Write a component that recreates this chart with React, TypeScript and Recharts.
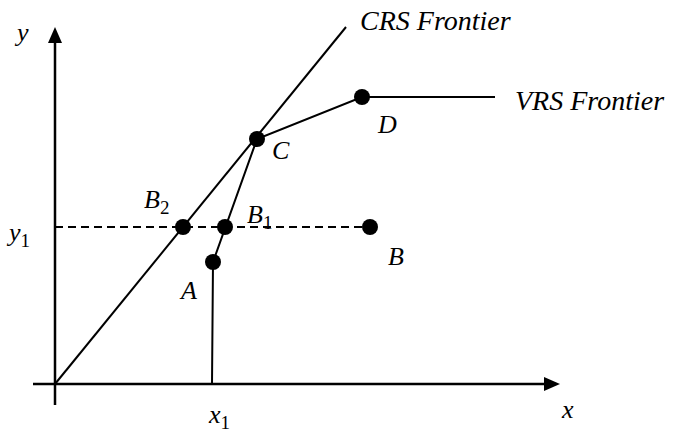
import React from 'react';
import { ComposedChart, Scatter, XAxis, YAxis } from 'recharts';

// diagram units: origin at (0, 0)
const xAxisLine = [{ x: -1.1, y: 0 }, { x: 24.6, y: 0 }];
const yAxisLine = [{ x: 0, y: -1.05 }, { x: 0, y: 17.2 }];
const crsFrontier = [{ x: 0, y: 0 }, { x: 14.55, y: 17.85 }];
const vrsFrontier = [{ x: 7.85, y: 0 }, { x: 7.9, y: 6.1 }, { x: 10.1, y: 12.25 }, { x: 15.35, y: 14.35 }, { x: 22, y: 14.35 }];
const y1Line = [{ x: 0, y: 7.85 }, { x: 15.75, y: 7.85 }];

const points = [
  { name: 'A', x: 7.9, y: 6.1 },
  { name: 'B', x: 15.75, y: 7.85 },
  { name: 'B1', x: 8.5, y: 7.85 },
  { name: 'B2', x: 6.4, y: 7.85 },
  { name: 'C', x: 10.1, y: 12.25 },
  { name: 'D', x: 15.35, y: 14.35 },
];

const arrowTips = [
  { dir: 'right', x: 25.25, y: 0 },
  { dir: 'up', x: 0, y: 17.85 },
];

const axisLabels = [
  { name: 'x', x: 25.25, y: 0 },
  { name: 'y', x: 0, y: 17.85 },
  { name: 'x1', x: 7.85, y: 0 },
  { name: 'y1', x: 0, y: 7.85 },
  { name: 'CRS Frontier', x: 14.55, y: 17.85 },
  { name: 'VRS Frontier', x: 22, y: 14.35 },
];

// label offsets in px from the anchor point
const labelOffset: Record<string, [number, number]> = {
  A: [-32, 37],
  B: [18, 38],
  B1: [22, -4],
  B2: [-39, -19],
  C: [15, 20],
  D: [16, 36],
  x: [2, 34],
  y: [-38, 14],
  x1: [-3, 39],
  y1: [-46, 14],
  'CRS Frontier': [14, 3],
  'VRS Frontier': [20, 13],
};

const FONT = '"Liberation Serif", serif';

const Dot = (props: any) => <circle cx={props.cx} cy={props.cy} r={8} fill="#000" />;
const NoShape = () => <g />;

const Arrow = (props: any) => {
  const { cx, cy, payload } = props;
  const pts = payload.dir === 'right'
    ? `${cx},${cy} ${cx - 16},${cy - 7} ${cx - 16},${cy + 7}`
    : `${cx},${cy} ${cx - 7},${cy + 16} ${cx + 7},${cy + 16}`;
  return <polygon points={pts} fill="#000" />;
};

const Label = (props: any) => {
  const { cx, cy, payload } = props;
  const name: string = payload.name;
  const [dx, dy] = labelOffset[name] || [0, 0];
  const m = name.match(/^([A-Za-z])(\d)$/);
  return (
    <text x={cx + dx} y={cy + dy} fontFamily={FONT} fontStyle="italic" fontSize={name.length > 3 ? 28 : 26} fill="#000">
      {m ? (
        <>
          {m[1]}
          <tspan fontStyle="normal" fontSize={19} dy={6}>{m[2]}</tspan>
        </>
      ) : name}
    </text>
  );
};

export default function App() {
  return (
    <div style={{ position: 'absolute', left: 0, top: 0, background: '#fff' }}>
      <ComposedChart width={676} height={435} margin={{ top: 0, right: 0, bottom: 0, left: 0 }}>
        <XAxis type="number" dataKey="x" domain={[-2.75, 31.05]} allowDataOverflow hide />
        <YAxis type="number" dataKey="y" domain={[-2.55, 19.2]} allowDataOverflow hide />
        <Scatter data={xAxisLine} dataKey="y" line={{ stroke: '#000', strokeWidth: 2.5 }} shape={NoShape} isAnimationActive={false} />
        <Scatter data={yAxisLine} dataKey="y" line={{ stroke: '#000', strokeWidth: 2.5 }} shape={NoShape} isAnimationActive={false} />
        <Scatter data={crsFrontier} dataKey="y" line={{ stroke: '#000', strokeWidth: 2 }} shape={NoShape} isAnimationActive={false} />
        <Scatter data={vrsFrontier} dataKey="y" line={{ stroke: '#000', strokeWidth: 2 }} shape={NoShape} isAnimationActive={false} />
        <Scatter data={y1Line} dataKey="y" line={{ stroke: '#000', strokeWidth: 1.8, strokeDasharray: '8 5' }} shape={NoShape} isAnimationActive={false} />
        <Scatter data={arrowTips} dataKey="y" shape={Arrow} isAnimationActive={false} />
        <Scatter data={points} dataKey="y" shape={Dot} isAnimationActive={false} />
        <Scatter data={points} dataKey="y" shape={Label} isAnimationActive={false} />
        <Scatter data={axisLabels} dataKey="y" shape={Label} isAnimationActive={false} />
      </ComposedChart>
    </div>
  );
}
